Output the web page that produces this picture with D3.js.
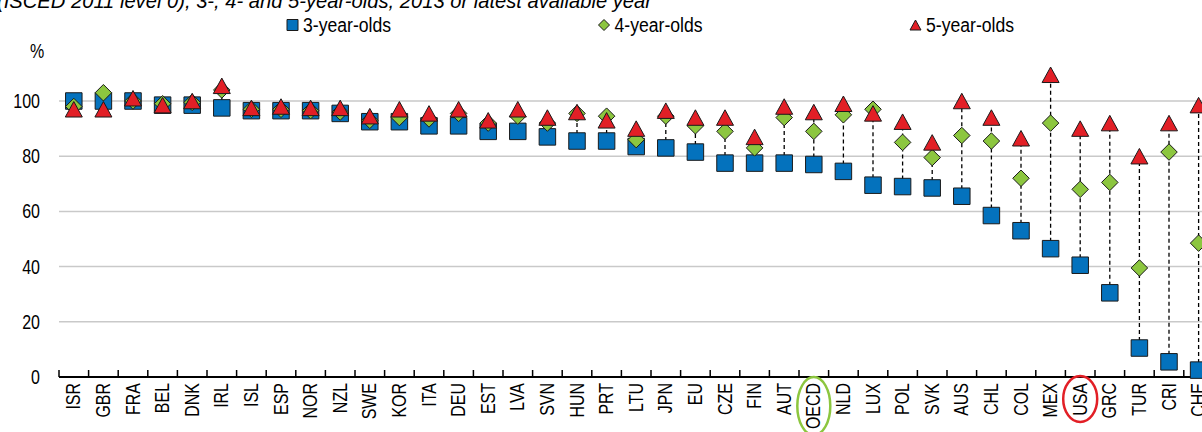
<!DOCTYPE html>
<html>
<head>
<meta charset="utf-8">
<script src="https://cdn.jsdelivr.net/npm/d3@7"></script>
<style>
  body { margin: 0; background: #fff; }
  svg { display: block; font-family: "Liberation Sans", Arial, sans-serif; }
</style>
</head>
<body>
<div id="wrapper"></div>
<script>
// data
const countries = ["ISR","GBR","FRA","BEL","DNK","IRL","ISL","ESP","NOR","NZL","SWE","KOR","ITA","DEU","EST","LVA","SVN","HUN","PRT","LTU","JPN","EU","CZE","FIN","AUT","OECD","NLD","LUX","POL","SVK","AUS","CHL","COL","MEX","USA","GRC","TUR","CRI","CHE"];
const age3 = [100,100,100,98.5,98.5,97.5,96.5,96.5,96.5,95.5,92.5,92.5,91,91,89,89,87,85.5,85.5,83.5,83,81.5,77.5,77.5,77.5,77,74.5,69.5,69,68.5,65.5,58.5,53,46.5,40.5,30.5,10.5,5.5,2.5];
const age4 = [98,103,100,99,99.5,104,97,97,96.5,96,93,94,93.5,95.5,92,94.5,92,95.5,94.5,86,94.5,91,89,83,94,89,95,97,85,79.5,87.5,85.5,72,92,68,70.5,39.5,81.5,48.5];
const age5 = [97,97,101,98.5,100,105.5,97.5,98,97.5,97.5,94.5,97,95.5,97,93,97,94,96,93,90,96.5,94,94,87,98,96,99,95.5,92.5,85,100,94,86.5,109.5,90,92,80,92,98.5];
const yTicks = [0, 20, 40, 60, 80, 100];
const seriesNames = ["3-year-olds", "4-year-olds", "5-year-olds"];
const titleText = "(ISCED 2011 level 0), 3-, 4- and 5-year-olds, 2013 or latest available year";

const colors = { blue: "#0472BD", green: "#8CC63F", red: "#E21F26", grid: "#c9c9c9" };

function drawChart() {
    const dimensions = {
        width: 1202,
        height: 432,
        left: 59,
        step: 29.6,
        axisY: 377,
        topY: 101
    };
    // no narrow font installed, so squeeze the regular one
    const narrow = 0.8;

    const wrapper = d3.select("#wrapper")
        .append("svg")
        .attr("width", dimensions.width)
        .attr("height", dimensions.height);

    // scales
    const xScale = d3.scaleBand()
        .domain(countries)
        .range([dimensions.left, dimensions.left + dimensions.step * countries.length])
        .padding(0);
    const xc = d => xScale(d) + xScale.bandwidth() / 2;

    const yScale = d3.scaleLinear()
        .domain([0, 100])
        .range([dimensions.axisY, dimensions.topY]);

    // title, cut off at the top
    wrapper.append("text")
        .attr("x", -3)
        .attr("y", 8)
        .attr("font-size", 20)
        .attr("font-style", "italic")
        .attr("textLength", 655)
        .attr("lengthAdjust", "spacingAndGlyphs")
        .attr("fill", "#000")
        .text(titleText);

    // gridlines
    wrapper.append("g")
        .selectAll("line")
        .data(yTicks.filter(d => d > 0))
        .join("line")
        .attr("x1", dimensions.left)
        .attr("x2", dimensions.width)
        .attr("y1", d => yScale(d))
        .attr("y2", d => yScale(d))
        .attr("stroke", colors.grid)
        .attr("stroke-width", 1.5);

    // y axis labels
    const yAxis = wrapper.append("g")
        .attr("transform", `translate(${dimensions.left - 19},0)`)
        .call(d3.axisLeft(yScale).tickValues(yTicks).tickSize(0).tickPadding(0));
    yAxis.select(".domain").remove();
    yAxis.selectAll("text")
        .attr("font-family", null)
        .attr("font-size", 20)
        .attr("fill", "#000")
        .attr("transform", `scale(${narrow},1)`);

    wrapper.append("text")
        .attr("transform", `translate(37,58) scale(${narrow},1)`)
        .attr("text-anchor", "middle")
        .attr("font-size", 20)
        .text("%");

    // x axis
    const xAxis = wrapper.append("g")
        .attr("transform", `translate(0,${dimensions.axisY})`);
    xAxis.append("line")
        .attr("x1", dimensions.left)
        .attr("x2", dimensions.width)
        .attr("stroke", "#000")
        .attr("stroke-width", 2);
    xAxis.selectAll(".tick")
        .data(countries)
        .join("line")
        .attr("class", "tick")
        .attr("x1", d => xScale(d))
        .attr("x2", d => xScale(d))
        .attr("y1", 0)
        .attr("y2", -7)
        .attr("stroke", "#000")
        .attr("stroke-width", 1.5);
    xAxis.selectAll(".label")
        .data(countries)
        .join("text")
        .attr("class", "label")
        .attr("transform", d => `translate(${xc(d) - 1},6) rotate(-90) scale(0.76,1)`)
        .attr("dy", "0.36em")
        .attr("text-anchor", "end")
        .attr("font-size", 21)
        .attr("fill", "#000")
        .text(d => d);

    // highlight rings round OECD and USA
    wrapper.append("ellipse")
        .attr("cx", xc("OECD"))
        .attr("cy", dimensions.axisY + 29)
        .attr("rx", 16.5)
        .attr("ry", 29)
        .attr("fill", "none")
        .attr("stroke", colors.green)
        .attr("stroke-width", 2.5);
    wrapper.append("ellipse")
        .attr("cx", xc("USA"))
        .attr("cy", dimensions.axisY + 22)
        .attr("rx", 17)
        .attr("ry", 23)
        .attr("fill", "none")
        .attr("stroke", colors.red)
        .attr("stroke-width", 2.5);

    const rows = countries.map((c, i) => ({ c, v3: age3[i], v4: age4[i], v5: age5[i] }));

    // dashed high-low lines
    wrapper.append("g")
        .selectAll("line")
        .data(rows)
        .join("line")
        .attr("x1", d => xc(d.c))
        .attr("x2", d => xc(d.c))
        .attr("y1", d => yScale(Math.min(d.v3, d.v4, d.v5)))
        .attr("y2", d => yScale(Math.max(d.v3, d.v4, d.v5)))
        .attr("stroke", "#000")
        .attr("stroke-width", 1.3)
        .attr("stroke-dasharray", "4,3");

    const square = s => `M${-s / 2},${-s / 2}h${s}v${s}h${-s}Z`;
    const diamond = s => `M0,${-s / 2}L${s / 2},0L0,${s / 2}L${-s / 2},0Z`;
    const triangle = (w, h) => `M0,${-h / 2}L${w / 2},${h / 2}L${-w / 2},${h / 2}Z`;

    const marks = [
        { key: "v3", path: square(16.5), fill: colors.blue },
        { key: "v4", path: diamond(16.5), fill: colors.green },
        { key: "v5", path: triangle(17, 15.5), fill: colors.red }
    ];

    marks.forEach(m => {
        wrapper.append("g")
            .selectAll("path")
            .data(rows)
            .join("path")
            .attr("transform", d => `translate(${xc(d.c)},${yScale(d[m.key])})`)
            .attr("d", m.path)
            .attr("fill", m.fill)
            .attr("stroke", "#1a1a1a")
            .attr("stroke-width", 1);
    });

    // legend
    const legendItems = [
        { name: seriesNames[0], x: 292.5, path: square(11), fill: colors.blue },
        { name: seriesNames[1], x: 604, path: diamond(11), fill: colors.green },
        { name: seriesNames[2], x: 915.5, path: triangle(11, 10), fill: colors.red }
    ];
    const legend = wrapper.append("g")
        .selectAll("g")
        .data(legendItems)
        .join("g")
        .attr("transform", d => `translate(${d.x},25)`);
    legend.append("path")
        .attr("d", d => d.path)
        .attr("fill", d => d.fill)
        .attr("stroke", "#1a1a1a")
        .attr("stroke-width", 1);
    legend.append("text")
        .attr("transform", "translate(10.5,7) scale(0.84,1)")
        .attr("font-size", 21)
        .attr("fill", "#000")
        .text(d => d.name);
}

drawChart();
</script>
</body>
</html>
